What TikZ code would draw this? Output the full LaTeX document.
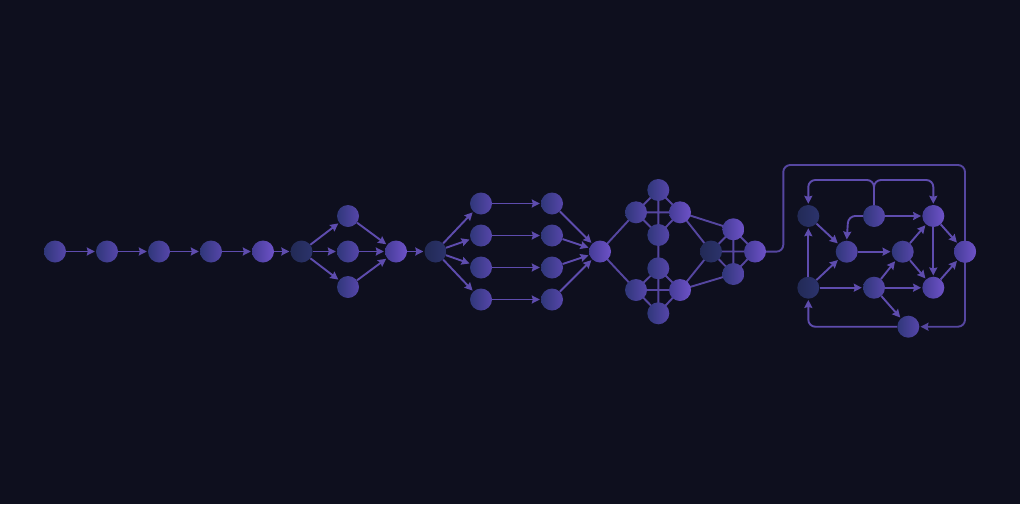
\documentclass[tikz,border=0pt]{standalone}
\usetikzlibrary{arrows.meta}
\definecolor{bg}{HTML}{0E0F1E}
\definecolor{edgec}{HTML}{5E4CAE}
\definecolor{linec}{HTML}{5546A0}
\definecolor{dA}{HTML}{222A56}
\definecolor{dB}{HTML}{2C336C}
\definecolor{mA}{HTML}{30377A}
\definecolor{mB}{HTML}{5646AA}
\definecolor{lA}{HTML}{443C96}
\definecolor{lB}{HTML}{6E52C8}
\tikzset{
  nd/.style={circle,minimum size=22pt,inner sep=0pt,draw=none,shading=axis,shading angle=45,left color=dA,right color=dB},
  nm/.style={circle,minimum size=22pt,inner sep=0pt,draw=none,shading=axis,shading angle=45,left color=mA,right color=mB},
  nl/.style={circle,minimum size=22pt,inner sep=0pt,draw=none,shading=axis,shading angle=45,left color=lA,right color=lB},
  ar/.style={draw=edgec,line width=1.9pt,-{Stealth[length=8pt,width=8pt,inset=1pt]},shorten >=1pt},
  ln/.style={draw=linec,line width=1.9pt},
  rc/.style={rounded corners=7pt}
}
\begin{document}
\begin{tikzpicture}[x=1pt,y=-1pt]
\fill[bg] (0,0) rectangle (1020,504);
\useasboundingbox (0,0) rectangle (1020,504);
% --- chain
\node[nm] (c1) at (55,251.5) {};
\node[nm] (c2) at (107,251.5) {};
\node[nm] (c3) at (159,251.5) {};
\node[nm] (c4) at (211,251.5) {};
\node[nl] (c5) at (263,251.5) {};
\node[nd] (c6) at (301.5,251.5) {};
\node[nm] (t1) at (348,216) {};
\node[nm] (t2) at (348,251.5) {};
\node[nm] (t3) at (348,287) {};
\node[nl] (m1) at (396,251.5) {};
\node[nd] (s0) at (435.5,251.5) {};
\node[nm] (a1) at (481,203.5) {};
\node[nm] (a2) at (481,235.5) {};
\node[nm] (a3) at (481,267.5) {};
\node[nm] (a4) at (481,299.5) {};
\node[nm] (b1) at (552,203.5) {};
\node[nm] (b2) at (552,235.5) {};
\node[nm] (b3) at (552,267.5) {};
\node[nm] (b4) at (552,299.5) {};
% --- diamonds (lines first, nodes later)
\coordinate (m2p) at (600,251.5);
\coordinate (ut) at (658.3,190);
\coordinate (ul) at (636,212.3);
\coordinate (ur) at (680,212.3);
\coordinate (ub) at (658.3,235);
\coordinate (lt) at (658.3,268.3);
\coordinate (ll) at (636,290);
\coordinate (lr) at (680,290);
\coordinate (lb) at (658.3,313.3);
\coordinate (rl) at (711,251.5);
\coordinate (rt) at (733.3,229.3);
\coordinate (rb) at (733.3,274);
\coordinate (rr) at (755,251.5);
\draw[ln] (m2p) -- (ul) (m2p) -- (ll);
\draw[ln] (ut) -- (ur) -- (ub) -- (ul) -- cycle (ul) -- (ur) (ut) -- (lb);
\draw[ln] (lt) -- (lr) -- (lb) -- (ll) -- cycle (ll) -- (lr);
\draw[ln] (ur) -- (rl) (ur) -- (rt) (lr) -- (rl) (lr) -- (rb);
\draw[ln] (rl) -- (rt) -- (rr) -- (rb) -- cycle (rl) -- (rr) (rt) -- (rb);
\node[nl] (m2) at (m2p) {};
\node[nm] (u1) at (ut) {};
\node[nm] (u2) at (ul) {};
\node[nl] (u3) at (ur) {};
\node[nm] (u4) at (ub) {};
\node[nm] (v1) at (lt) {};
\node[nm] (v2) at (ll) {};
\node[nl] (v3) at (lr) {};
\node[nm] (v4) at (lb) {};
\node[nd] (w1) at (rl) {};
\node[nl] (w2) at (rt) {};
\node[nm] (w3) at (rb) {};
\node[nl] (w4) at (rr) {};
% --- final graph nodes
\node[nd] (A) at (808.3,216) {};
\node[nd] (B) at (808.3,287.7) {};
\node[nm] (C) at (846.7,251.7) {};
\node[nm] (D) at (874,216) {};
\node[nl] (E) at (933.3,216) {};
\node[nm] (F) at (902.7,251.7) {};
\node[nm] (G) at (874,287.7) {};
\node[nl] (H) at (933.3,287.7) {};
\node[nl] (I) at (965,251.7) {};
\node[nm] (J) at (908.3,326.7) {};
% outer loop (behind I)
\draw[ar,rc,draw=linec] (w4) -- (783.3,251.7) -- (783.3,165) -- (965,165) -- (965,326.7) -- (J);
\node[nl] at (I) {};
% --- arrows chain
\draw[ar] (c1) -- (c2);
\draw[ar] (c2) -- (c3);
\draw[ar] (c3) -- (c4);
\draw[ar] (c4) -- (c5);
\draw[ar] (c5) -- (c6);
\draw[ar] (c6) -- (t1);
\draw[ar] (c6) -- (t2);
\draw[ar] (c6) -- (t3);
\draw[ar] (t1) -- (m1);
\draw[ar] (t2) -- (m1);
\draw[ar] (t3) -- (m1);
\draw[ar] (m1) -- (s0);
\foreach \i in {1,2,3,4} {
  \draw[ar] (s0) -- (a\i);
  \draw[ar] (a\i) -- (b\i);
  \draw[ar] (b\i) -- (m2);
}
% --- final graph arrows
\draw[ar] (A) -- (C);
\draw[ar] (B) -- (A);
\draw[ar] (B) -- (C);
\draw[ar] (B) -- (G);
\draw[ar] (C) -- (F);
\draw[ar] (D) -- (E);
\draw[ar,rc] (D.west) -- (848.3,216) -- (C.north);
\draw[ar,rc] (D.north) -- (874,180) -- (808.3,180) -- (A.north);
\draw[ar,rc] (D.north) -- (874,180) -- (933.3,180) -- (E.north);
\draw[ar] (E) -- (I);
\draw[ar] (E) -- (H);
\draw[ar] (F) -- (E);
\draw[ar] (F) -- (H);
\draw[ar] (G) -- (F);
\draw[ar] (G) -- (H);
\draw[ar] (G) -- (J);
\draw[ar] (H) -- (I);
\draw[ar,rc] (J.west) -- (808.3,326.7) -- (B.south);
\end{tikzpicture}
\end{document}
